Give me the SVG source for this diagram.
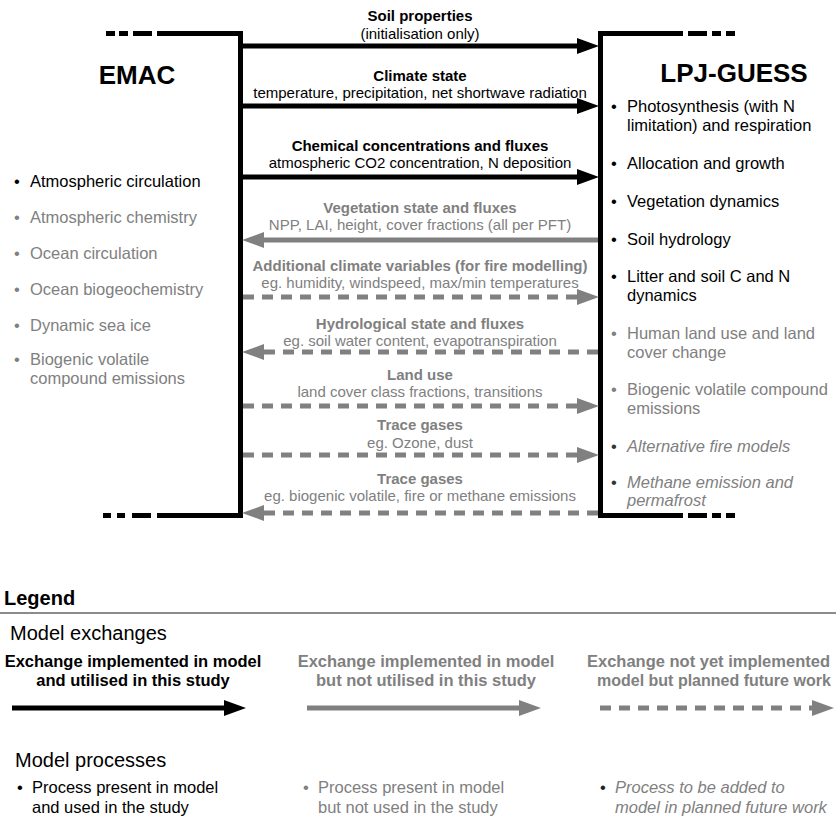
<svg xmlns="http://www.w3.org/2000/svg" width="836" height="820" viewBox="0 0 836 820">
<style>
text{font-family:"Liberation Sans",Arial,sans-serif;}
.b{font-weight:bold;font-size:15px;text-anchor:middle;}
.s{font-size:15px;text-anchor:middle;}
.li{font-size:16.5px;}
.k{fill:#000;}
.g{fill:#808080;}
.it{font-style:italic;}
.title{font-weight:bold;font-size:26px;text-anchor:middle;fill:#000;}
.lk{stroke:#000;stroke-width:5;fill:none;}
.lg{stroke:#808080;stroke-width:5;fill:none;}
.ld{stroke:#808080;stroke-width:5;fill:none;stroke-dasharray:11 8;}
.br{stroke:#000;stroke-width:5;fill:none;}
.lh{font-weight:bold;font-size:16.5px;text-anchor:middle;}
</style>
<defs>
<marker id="ak" markerUnits="userSpaceOnUse" markerWidth="22" markerHeight="16" refX="0" refY="8" orient="auto" overflow="visible"><path d="M0,0 L22,8 L0,16 z" fill="#000"/></marker>
<marker id="ag" markerUnits="userSpaceOnUse" markerWidth="22" markerHeight="16" refX="0" refY="8" orient="auto" overflow="visible"><path d="M0,0 L22,8 L0,16 z" fill="#808080"/></marker>
</defs>

<g id="emac">
<path class="br" d="M157,33.5 H240.5 V515.5 H157"/>
<rect x="106" y="31" width="9" height="5"/>
<rect x="119" y="31" width="9" height="5"/>
<rect x="133" y="31" width="19" height="5"/>
<rect x="103" y="513" width="8" height="5"/>
<rect x="117" y="513" width="8" height="5"/>
<rect x="132" y="513" width="19" height="5"/>
<text class="title" x="137" y="84">EMAC</text>
<g class="li">
<text x="14" y="187" class="k">•</text><text x="30" y="187" class="k">Atmospheric circulation</text>
<text x="14" y="223" class="g">•</text><text x="30" y="223" class="g">Atmospheric chemistry</text>
<text x="14" y="259" class="g">•</text><text x="30" y="259" class="g">Ocean circulation</text>
<text x="14" y="295" class="g">•</text><text x="30" y="295" class="g">Ocean biogeochemistry</text>
<text x="14" y="331" class="g">•</text><text x="30" y="331" class="g">Dynamic sea ice</text>
<text x="14" y="365" class="g">•</text><text x="30" y="365" class="g">Biogenic volatile</text>
<text x="30" y="384" class="g">compound emissions</text>
</g>
</g>

<g id="lpjguess">
<path class="br" d="M683,33.5 H600.5 V515.5 H683"/>
<rect x="688" y="31" width="19" height="5"/>
<rect x="712" y="31" width="9" height="5"/>
<rect x="726" y="31" width="9" height="5"/>
<rect x="688" y="513" width="19" height="5"/>
<rect x="712" y="513" width="9" height="5"/>
<rect x="726" y="513" width="9" height="5"/>
<text class="title" x="734" y="82">LPJ-GUESS</text>
<g class="li">
<text x="611" y="112" class="k">•</text><text x="627" y="112" class="k">Photosynthesis (with N</text>
<text x="627" y="131" class="k">limitation) and respiration</text>
<text x="611" y="169" class="k">•</text><text x="627" y="169" class="k">Allocation and growth</text>
<text x="611" y="207" class="k">•</text><text x="627" y="207" class="k">Vegetation dynamics</text>
<text x="611" y="245" class="k">•</text><text x="627" y="245" class="k">Soil hydrology</text>
<text x="611" y="282" class="k">•</text><text x="627" y="282" class="k">Litter and soil C and N</text>
<text x="627" y="301" class="k">dynamics</text>
<text x="611" y="339" class="g">•</text><text x="627" y="339" class="g">Human land use and land</text>
<text x="627" y="358" class="g">cover change</text>
<text x="611" y="395" class="g">•</text><text x="627" y="395" class="g">Biogenic volatile compound</text>
<text x="627" y="414" class="g">emissions</text>
<text x="611" y="452" fill="#333">•</text><text x="627" y="452" class="g it">Alternative fire models</text>
<text x="611" y="488" fill="#333">•</text><text x="627" y="488" class="g it">Methane emission and</text>
<text x="627" y="506" class="g it">permafrost</text>
</g>
</g>

<g id="connectors">
<line class="lk" x1="243" y1="46" x2="577" y2="46" marker-end="url(#ak)"/>
<line class="lk" x1="243" y1="106" x2="577" y2="106" marker-end="url(#ak)"/>
<line class="lk" x1="243" y1="177" x2="577" y2="177" marker-end="url(#ak)"/>
<line class="lg" x1="598" y1="240" x2="264" y2="240" marker-end="url(#ag)"/>
<line class="ld" x1="243" y1="297" x2="577" y2="297" marker-end="url(#ag)"/>
<line class="ld" x1="598" y1="352" x2="264" y2="352" marker-end="url(#ag)"/>
<line class="ld" x1="243" y1="406" x2="577" y2="406" marker-end="url(#ag)"/>
<line class="ld" x1="243" y1="455" x2="577" y2="455" marker-end="url(#ag)"/>
<line class="ld" x1="598" y1="513" x2="264" y2="513" marker-end="url(#ag)"/>
</g>

<g id="labels">
<text class="b k" x="420" y="21">Soil properties</text>
<text class="s k" x="420" y="39">(initialisation only)</text>
<text class="b k" x="420" y="81">Climate state</text>
<text class="s k" x="420" y="98">temperature, precipitation, net shortwave radiation</text>
<text class="b k" x="420" y="151">Chemical concentrations and fluxes</text>
<text class="s k" x="420" y="168">atmospheric CO2 concentration, N deposition</text>
<text class="b g" x="420" y="213">Vegetation state and fluxes</text>
<text class="s g" x="420" y="230">NPP, LAI, height, cover fractions (all per PFT)</text>
<text class="b g" x="420" y="271">Additional climate variables (for fire modelling)</text>
<text class="s g" x="420" y="288">eg. humidity, windspeed, max/min temperatures</text>
<text class="b g" x="420" y="329">Hydrological state and fluxes</text>
<text class="s g" x="420" y="346">eg. soil water content, evapotranspiration</text>
<text class="b g" x="420" y="380">Land use</text>
<text class="s g" x="420" y="397">land cover class fractions, transitions</text>
<text class="b g" x="420" y="430">Trace gases</text>
<text class="s g" x="420" y="448">eg. Ozone, dust</text>
<text class="b g" x="420" y="484">Trace gases</text>
<text class="s g" x="420" y="501">eg. biogenic volatile, fire or methane emissions</text>
</g>

<g id="legend">
<text x="4" y="605" font-weight="bold" font-size="20" fill="#000">Legend</text>
<line x1="0" y1="613" x2="836" y2="613" stroke="#666" stroke-width="1.5"/>
<text x="10" y="640" font-size="20" fill="#000">Model exchanges</text>
<text class="lh k" x="133" y="667">Exchange implemented in model</text>
<text class="lh k" x="133" y="686">and utilised in this study</text>
<text class="lh g" x="426" y="667">Exchange implemented in model</text>
<text class="lh g" x="426" y="686">but not utilised in this study</text>
<text class="g" x="587" y="667" font-weight="bold" font-size="16.5">Exchange not yet implemented</text>
<text class="g" x="597" y="686" font-weight="bold" font-size="16">model but planned future work</text>
<line class="lk" x1="12" y1="708" x2="224" y2="708" marker-end="url(#ak)"/>
<line class="lg" x1="307" y1="708" x2="519" y2="708" marker-end="url(#ag)"/>
<line class="ld" x1="600" y1="708" x2="812" y2="708" marker-end="url(#ag)"/>
<text x="15" y="767" font-size="20" fill="#000">Model processes</text>
<g class="li">
<text x="17" y="793" class="k">•</text><text x="32" y="793" class="k">Process present in model</text>
<text x="32" y="813" class="k">and used in the study</text>
<text x="303" y="793" class="g">•</text><text x="318" y="793" class="g">Process present in model</text>
<text x="318" y="813" class="g">but not used in the study</text>
<text x="600" y="793" fill="#222">•</text><text x="615" y="793" class="g it">Process to be added to</text>
<text x="615" y="813" class="g it">model in planned future work</text>
</g>
</g>
</svg>
